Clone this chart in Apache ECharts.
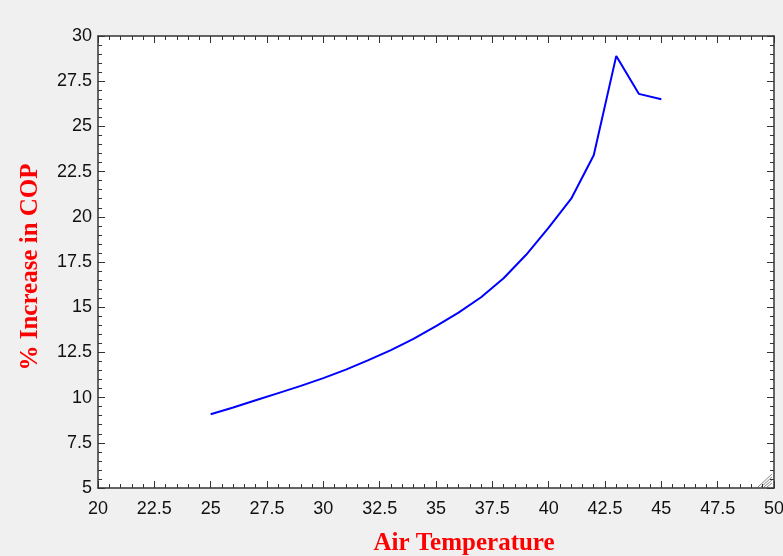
<!DOCTYPE html>
<html>
<head>
<meta charset="utf-8">
<script src="https://cdn.jsdelivr.net/npm/echarts@6/dist/echarts.min.js"></script>
<style>
html,body{margin:0;padding:0;background:#f0f0f0;}
#c{width:783px;height:556px;}
</style>
</head>
<body>
<div id="c"></div>
<script>
const temps = [25, 26, 27, 28, 29, 30, 31, 32, 33, 34, 35, 36, 37, 38, 39, 40, 41, 42, 43, 44, 45];
const copIncrease = [9.08, 9.45, 9.85, 10.25, 10.65, 11.08, 11.55, 12.07, 12.63, 13.25, 13.95, 14.7, 15.55, 16.6, 17.9, 19.4, 21.0, 23.4, 28.9, 26.8, 26.5];
const xTitle = "Air Temperature";
const yTitle = "% Increase in COP";

const chart = echarts.init(document.getElementById('c'), null, {renderer: 'canvas'});
const axisColor = '#333333';
const labelStyle = {color: '#111', fontFamily: 'Liberation Sans, Arial, sans-serif', fontSize: 18};
const titleBase = {color: '#ff0000', fontFamily: 'Liberation Serif, Times New Roman, serif', fontWeight: 'bold', fontSize: 25};

function axisCommon(showLabel) {
  return {
    axisLine: {show: true, onZero: false, lineStyle: {color: axisColor, width: 1.5}},
    axisTick: {show: true, inside: true, length: 7, lineStyle: {color: axisColor, width: 1}},
    minorTick: {show: true, splitNumber: 5, length: 4, lineStyle: {color: axisColor, width: 1}},
    splitLine: {show: false},
    minorSplitLine: {show: false},
    axisLabel: Object.assign({show: showLabel}, labelStyle)
  };
}

const option = {
  backgroundColor: '#f0f0f0',
  animation: false,
  grid: {left: 98, top: 36, right: 9, bottom: 68, show: true, backgroundColor: '#ffffff', borderWidth: 0,
         containLabel: false, outerBoundsMode: 'none'},
  xAxis: [
    Object.assign({
      type: 'value', min: 20, max: 50, interval: 2.5, position: 'bottom',
      name: xTitle, nameLocation: 'middle', nameGap: 43,
      nameTextStyle: Object.assign({padding: [0, 0, 0, 56]}, titleBase)
    }, axisCommon(true), {axisLabel: Object.assign({show: true, margin: 12}, labelStyle)}),
    Object.assign({type: 'value', min: 20, max: 50, interval: 2.5, position: 'top'}, axisCommon(false))
  ],
  yAxis: [
    Object.assign({
      type: 'value', min: 5, max: 30, interval: 2.5, position: 'left',
      name: yTitle, nameLocation: 'middle', nameGap: 55, nameRotate: 90,
      nameTextStyle: Object.assign({padding: [0, 10, 0, 0]}, titleBase)
    }, axisCommon(true), {axisLabel: Object.assign({show: true, margin: 6}, labelStyle)}),
    Object.assign({type: 'value', min: 5, max: 30, interval: 2.5, position: 'right'}, axisCommon(false))
  ],
  series: [{
    type: 'line',
    data: temps.map((t, i) => [t, copIncrease[i]]),
    showSymbol: false,
    symbol: 'none',
    lineStyle: {color: '#0000ff', width: 2},
    xAxisIndex: 0, yAxisIndex: 0
  }],
  graphic: [
    {type: 'line', shape: {x1: 772, y1: 474, x2: 758, y2: 487}, style: {stroke: '#888', lineWidth: 1}},
    {type: 'line', shape: {x1: 772, y1: 477, x2: 761, y2: 487}, style: {stroke: '#888', lineWidth: 1}},
    {type: 'line', shape: {x1: 772, y1: 480, x2: 764, y2: 487}, style: {stroke: '#888', lineWidth: 1}},
    {type: 'line', shape: {x1: 772, y1: 483, x2: 767, y2: 487}, style: {stroke: '#888', lineWidth: 1}}
  ]
};
chart.setOption(option);
</script>
</body>
</html>
